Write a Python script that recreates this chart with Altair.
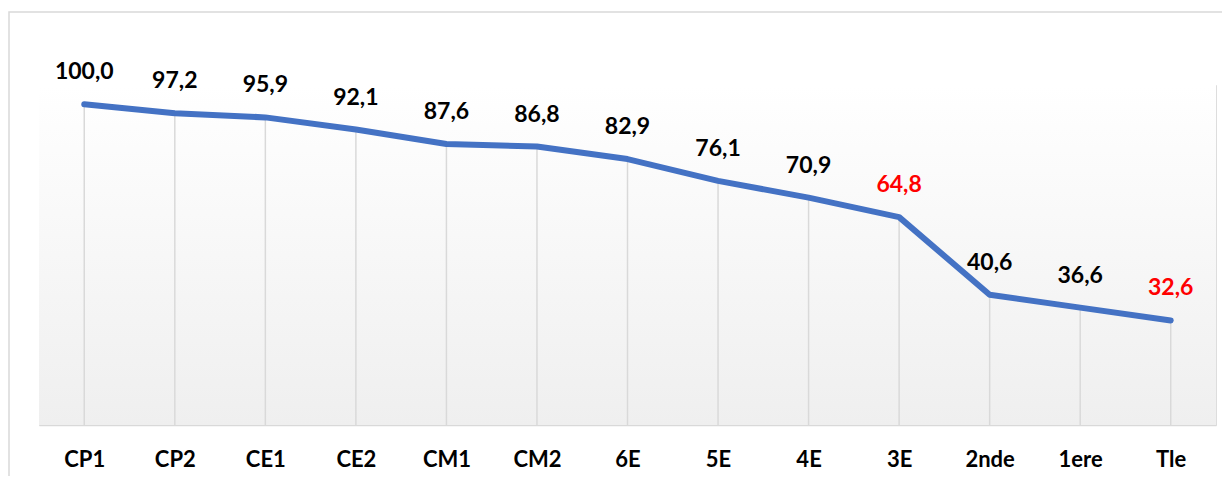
import altair as alt
import pandas as pd

levels = ["CP1", "CP2", "CE1", "CE2", "CM1", "CM2", "6E", "5E", "4E", "3E", "2nde", "1ere", "Tle"]
rates = [100.0, 97.2, 95.9, 92.1, 87.6, 86.8, 82.9, 76.1, 70.9, 64.8, 40.6, 36.6, 32.6]
highlighted = ["3E", "Tle"]

df = pd.DataFrame({
    "niveau": levels,
    "taux": rates,
    "label": [f"{v:.1f}".replace(".", ",") for v in rates],
    "hl": [lv in highlighted for lv in levels],
})

W, H = 1177, 340
FONT = "Lato"

xenc = alt.X("niveau:N", sort=levels,
             scale=alt.Scale(type="point", padding=0.5),
             axis=alt.Axis(title=None, labelAngle=0, labelFont=FONT, labelFontWeight="bold",
                           labelFontSize=22, labelColor="black", labelPadding=24,
                           ticks=False, domainColor="#d9d9d9", domainWidth=1.5, grid=False))
yscale = alt.Scale(domain=[0, 106], nice=False, zero=True)

base = alt.Chart(df)

frame = base.mark_rect(fill=None, stroke="#d9d9d9", strokeWidth=1.5, clip=False).encode(
    x=alt.value(-30), x2=alt.value(1250), y=alt.value(-73), y2=alt.value(420)
).transform_filter(alt.datum.niveau == "CP1")

bg = base.mark_rect(
    color=alt.Gradient(gradient="linear", x1=0, x2=0, y1=0, y2=1,
                       stops=[alt.GradientStop(offset=0, color="#ffffff"),
                              alt.GradientStop(offset=1, color="#efefef")])
).encode(x=alt.value(0), x2=alt.value(W), y=alt.value(0), y2=alt.value(H)
).transform_filter(alt.datum.niveau == "CP1")

drops = base.mark_rule(color="#d9d9d9", strokeWidth=1.5).encode(
    x=xenc,
    y=alt.Y("taux:Q", scale=yscale, axis=None),
    y2=alt.datum(0),
)

line = base.mark_line(color="#4472C4", strokeWidth=6, strokeCap="round", strokeJoin="round").encode(
    x=alt.X("niveau:N", sort=levels),
    y=alt.Y("taux:Q", scale=yscale, axis=None),
)

labels = base.mark_text(font=FONT, fontWeight="bold", fontSize=23, dy=-32, baseline="middle").encode(
    x=alt.X("niveau:N", sort=levels),
    y=alt.Y("taux:Q", scale=yscale, axis=None),
    text="label:N",
    color=alt.condition(alt.datum.hl, alt.value("#ff0000"), alt.value("#000000")),
)

chart = alt.layer(frame, bg, drops, line, labels).properties(
    width=W, height=H,
    autosize=alt.AutoSizeParams(type="none"),
    padding={"left": 31, "top": 77, "right": 6, "bottom": 51},
).configure_view(stroke=None).configure(background="white")

chart.save("out.html", embed_options={"renderer": "svg", "actions": False})
